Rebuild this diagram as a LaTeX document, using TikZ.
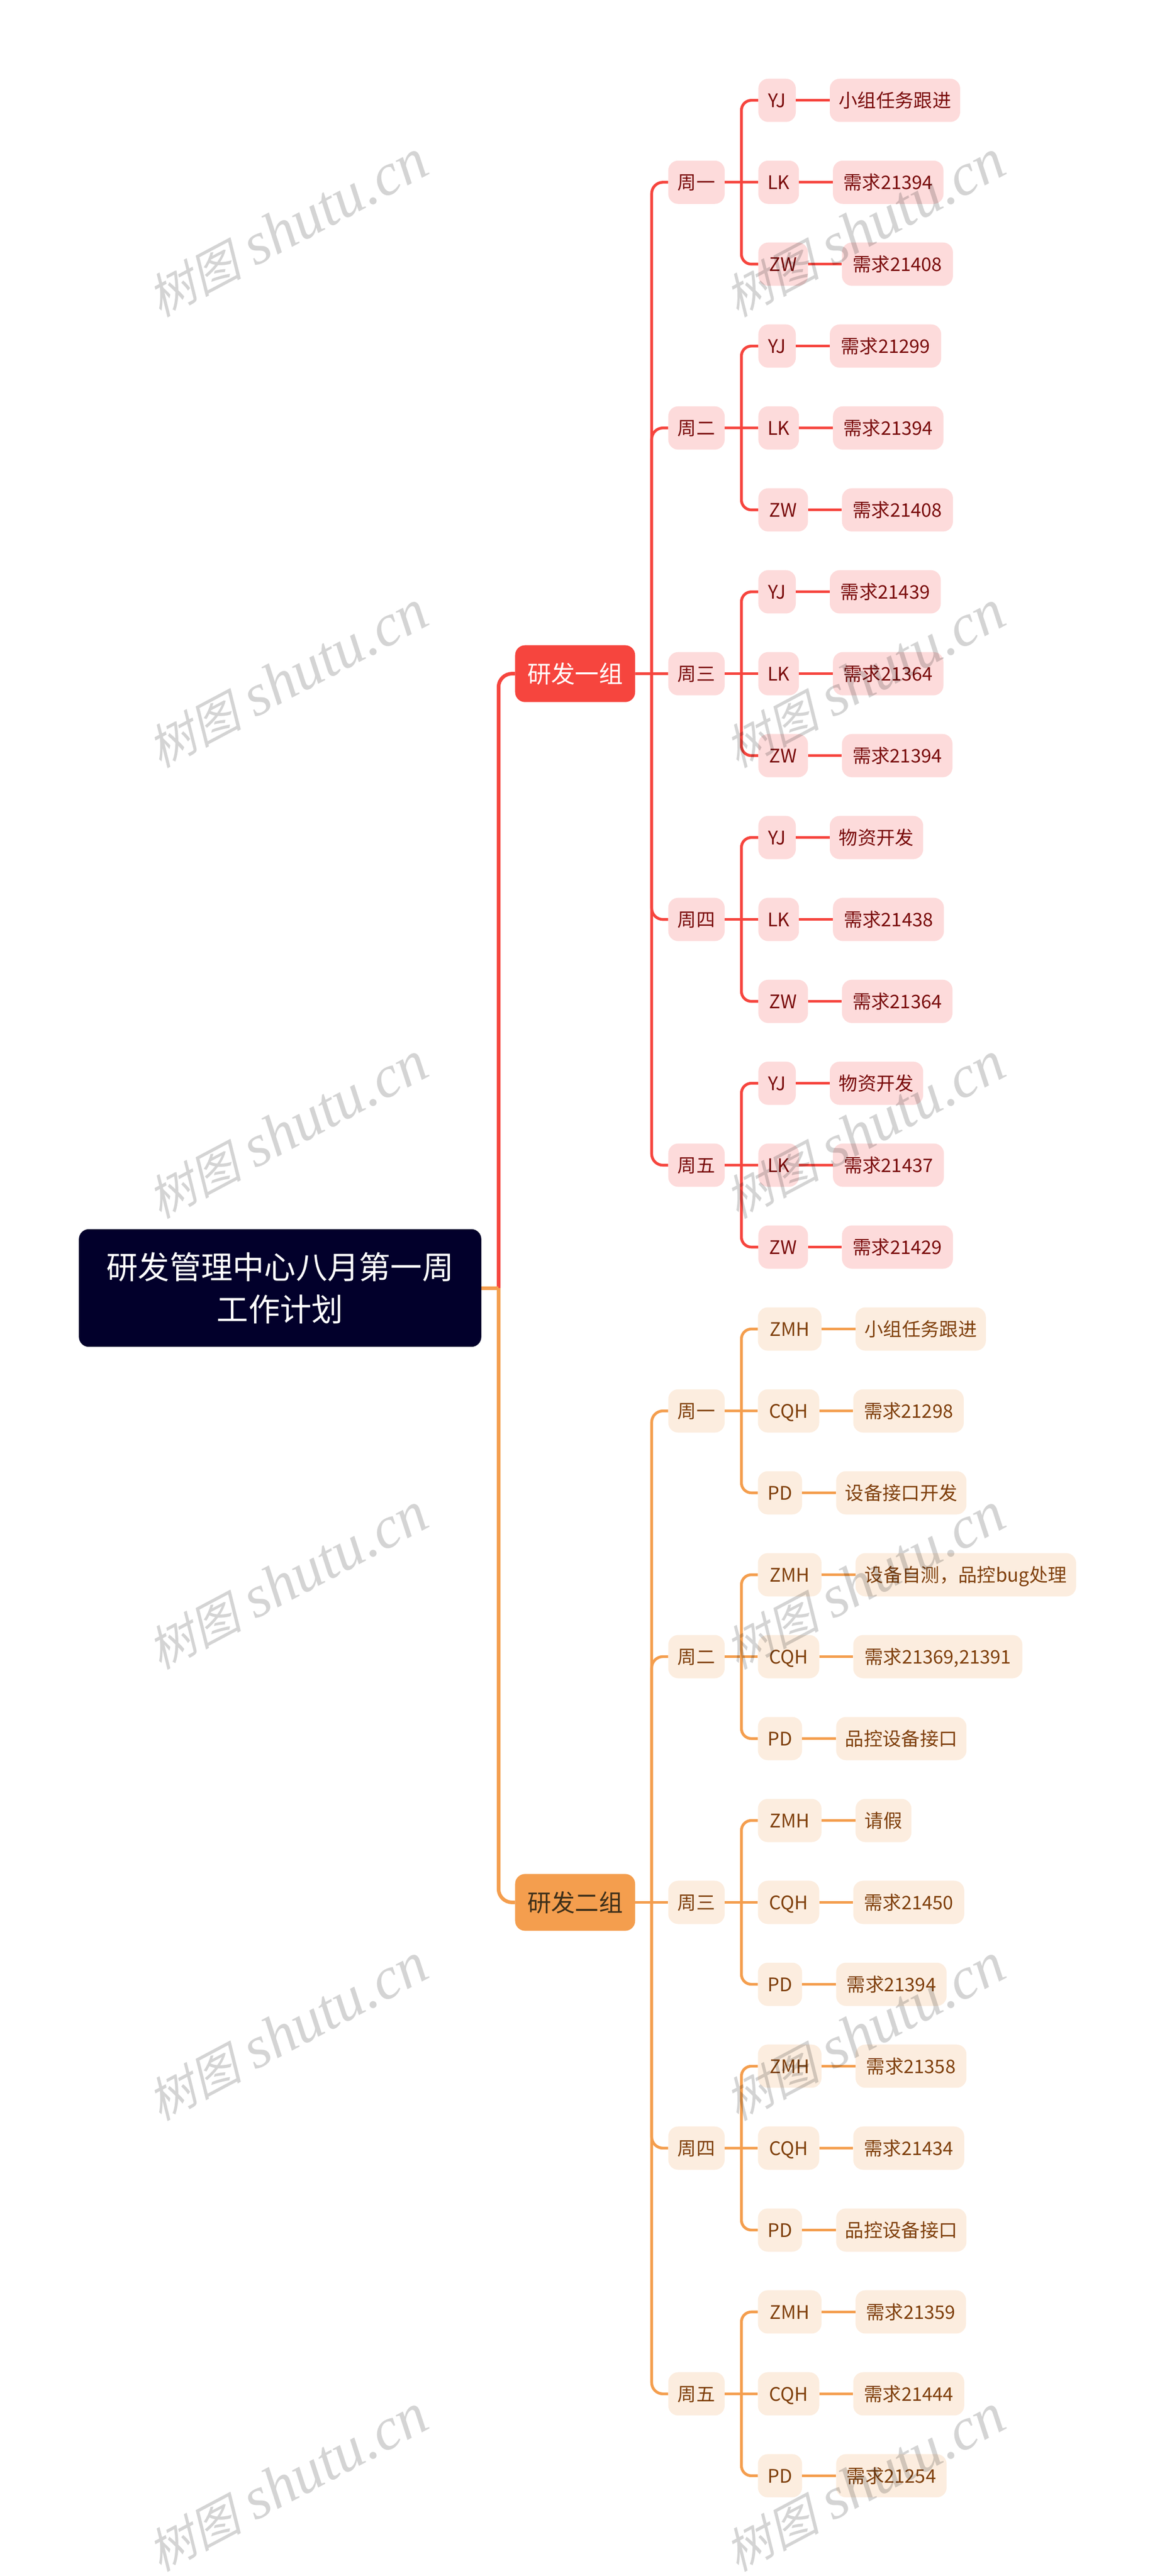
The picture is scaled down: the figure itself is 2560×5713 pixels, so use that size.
\documentclass[tikz,border=0pt]{standalone}
\usepackage{fontspec}
\setmainfont{Noto Sans CJK SC}
\newfontfamily\markcjk[FakeSlant=0.25]{Noto Sans CJK SC}
\newfontfamily\marklatin{Liberation Serif}
\usetikzlibrary{positioning}
\definecolor{rootblue}{HTML}{02002B}
\definecolor{mainred}{HTML}{F6453E}
\definecolor{mainorange}{HTML}{F49E4E}
\definecolor{softred}{HTML}{FDDBDB}
\definecolor{softorange}{HTML}{FCEDDF}
\definecolor{inkred}{HTML}{7A0C0C}
\definecolor{inkorange}{HTML}{7F3F0B}
\definecolor{inkgroup}{HTML}{3D2F1A}
\tikzset{
  softbox/.style={font=\fontsize{41.5}{50}\selectfont,rounded corners=22pt,minimum height=96pt,inner sep=0pt,text height=36.5pt,text depth=5pt},
  redbox/.style={softbox,fill=softred,text=inkred},
  orangebox/.style={softbox,fill=softorange,text=inkorange},
  daywidth/.style={minimum width=125pt},
  yjbox/.style={redbox,anchor=west,minimum width=83pt},
  lkbox/.style={redbox,anchor=west,minimum width=90pt},
  zwbox/.style={redbox,anchor=west,minimum width=110pt},
  zmhbox/.style={orangebox,anchor=west,minimum width=141pt},
  cqhbox/.style={orangebox,anchor=west,minimum width=136pt},
  pdbox/.style={orangebox,anchor=west,minimum width=98pt},
  groupbox/.style={font=\fontsize{53}{60}\selectfont,rounded corners=22pt,minimum width=266pt,minimum height=126pt,inner sep=0pt},
  redline/.style={draw=mainred,line width=6.2pt},
  orangeline/.style={draw=mainorange,line width=6.2pt},
  shutumark/.style={text=black,text opacity=.17,rotate=28,font=\fontsize{132}{140}\selectfont}
}
\newcommand{\marktext}{{\fontsize{105}{140}\selectfont\markcjk 树图} {\marklatin\itshape shutu.cn}}
\begin{document}
\begin{tikzpicture}[x=1pt,y=-1pt]
  \useasboundingbox (0,0) rectangle (2560,5713);
  \node[rounded corners=22pt,fill=rootblue,text=white,minimum width=892pt,minimum height=261pt,inner sep=0pt,align=center,font=\fontsize{70}{94}\selectfont] at (621,2856.5) (root) {研发管理中心八月第一周\\工作计划};
  \node[groupbox,fill=mainred,text=white] at (1275,1494) (g1) {研发一组};
  \node[groupbox,fill=mainorange,text=inkgroup] at (1275,4219) (g2) {研发二组};
  % first group
  \node[redbox,daywidth] at (1544,404.2) (d1) {周一};
  \node[redbox,daywidth] at (1544,949.1) (d2) {周二};
  \node[redbox,daywidth] at (1544,1494.1) (d3) {周三};
  \node[redbox,daywidth] at (1544,2039.1) (d4) {周四};
  \node[redbox,daywidth] at (1544,2584.1) (d5) {周五};
  \node[yjbox] at (1681,222.5) (p0) {YJ};
  \node[lkbox] at (1681,404.2) (p1) {LK};
  \node[zwbox] at (1681,585.8) (p2) {ZW};
  \node[yjbox] at (1681,767.5) (p3) {YJ};
  \node[lkbox] at (1681,949.1) (p4) {LK};
  \node[zwbox] at (1681,1130.8) (p5) {ZW};
  \node[yjbox] at (1681,1312.5) (p6) {YJ};
  \node[lkbox] at (1681,1494.1) (p7) {LK};
  \node[zwbox] at (1681,1675.8) (p8) {ZW};
  \node[yjbox] at (1681,1857.4) (p9) {YJ};
  \node[lkbox] at (1681,2039.1) (p10) {LK};
  \node[zwbox] at (1681,2220.8) (p11) {ZW};
  \node[yjbox] at (1681,2402.4) (p12) {YJ};
  \node[lkbox] at (1681,2584.1) (p13) {LK};
  \node[zwbox] at (1681,2765.7) (p14) {ZW};
  \node[redbox,minimum width=289pt,right=75pt of p0] (l0) {小组任务跟进};
  \node[redbox,minimum width=245pt,right=75pt of p1] (l1) {需求21394};
  \node[redbox,minimum width=246pt,right=75pt of p2] (l2) {需求21408};
  \node[redbox,minimum width=247pt,right=75pt of p3] (l3) {需求21299};
  \node[redbox,minimum width=245pt,right=75pt of p4] (l4) {需求21394};
  \node[redbox,minimum width=246pt,right=75pt of p5] (l5) {需求21408};
  \node[redbox,minimum width=246pt,right=75pt of p6] (l6) {需求21439};
  \node[redbox,minimum width=245pt,right=75pt of p7] (l7) {需求21364};
  \node[redbox,minimum width=245pt,right=75pt of p8] (l8) {需求21394};
  \node[redbox,minimum width=207pt,right=75pt of p9] (l9) {物资开发};
  \node[redbox,minimum width=246pt,right=75pt of p10] (l10) {需求21438};
  \node[redbox,minimum width=245pt,right=75pt of p11] (l11) {需求21364};
  \node[redbox,minimum width=207pt,right=75pt of p12] (l12) {物资开发};
  \node[redbox,minimum width=246pt,right=75pt of p13] (l13) {需求21437};
  \node[redbox,minimum width=246pt,right=75pt of p14] (l14) {需求21429};
  % second group
  \node[orangebox,daywidth] at (1544,3129.1) (d6) {周一};
  \node[orangebox,daywidth] at (1544,3674) (d7) {周二};
  \node[orangebox,daywidth] at (1544,4219) (d8) {周三};
  \node[orangebox,daywidth] at (1544,4764) (d9) {周四};
  \node[orangebox,daywidth] at (1544,5309) (d10) {周五};
  \node[zmhbox] at (1680,2947.4) (p15) {ZMH};
  \node[cqhbox] at (1680,3129.1) (p16) {CQH};
  \node[pdbox] at (1680,3310.7) (p17) {PD};
  \node[zmhbox] at (1680,3492.4) (p18) {ZMH};
  \node[cqhbox] at (1680,3674) (p19) {CQH};
  \node[pdbox] at (1680,3855.7) (p20) {PD};
  \node[zmhbox] at (1680,4037.4) (p21) {ZMH};
  \node[cqhbox] at (1680,4219) (p22) {CQH};
  \node[pdbox] at (1680,4400.7) (p23) {PD};
  \node[zmhbox] at (1680,4582.3) (p24) {ZMH};
  \node[cqhbox] at (1680,4764) (p25) {CQH};
  \node[pdbox] at (1680,4945.7) (p26) {PD};
  \node[zmhbox] at (1680,5127.3) (p27) {ZMH};
  \node[cqhbox] at (1680,5309) (p28) {CQH};
  \node[pdbox] at (1680,5490.6) (p29) {PD};
  \node[orangebox,minimum width=289pt,right=75pt of p15] (l15) {小组任务跟进};
  \node[orangebox,minimum width=245pt,right=75pt of p16] (l16) {需求21298};
  \node[orangebox,minimum width=289pt,right=75pt of p17] (l17) {设备接口开发};
  \node[orangebox,minimum width=489pt,right=75pt of p18] (l18) {设备自测，品控bug处理};
  \node[orangebox,minimum width=375pt,right=75pt of p19] (l19) {需求21369,21391};
  \node[orangebox,minimum width=289pt,right=75pt of p20] (l20) {品控设备接口};
  \node[orangebox,minimum width=124pt,right=75pt of p21] (l21) {请假};
  \node[orangebox,minimum width=246pt,right=75pt of p22] (l22) {需求21450};
  \node[orangebox,minimum width=245pt,right=75pt of p23] (l23) {需求21394};
  \node[orangebox,minimum width=246pt,right=75pt of p24] (l24) {需求21358};
  \node[orangebox,minimum width=246pt,right=75pt of p25] (l25) {需求21434};
  \node[orangebox,minimum width=289pt,right=75pt of p26] (l26) {品控设备接口};
  \node[orangebox,minimum width=245pt,right=75pt of p27] (l27) {需求21359};
  \node[orangebox,minimum width=246pt,right=75pt of p28] (l28) {需求21444};
  \node[orangebox,minimum width=245pt,right=75pt of p29] (l29) {需求21254};
  % connectors
  \draw[draw=mainred,line width=8pt,rounded corners=30pt] (root.east) ++(38pt,0) |- (g1.west);
  \draw[draw=mainorange,line width=8pt,rounded corners=30pt] (root.east) ++(38pt,0) |- (g2.west);
  \draw[draw=mainorange,line width=8pt] (root.east) -- ++(38pt,0);
  \draw[redline,rounded corners=25pt] (g1.east) ++(36.5pt,0) |- (d1.west);
  \draw[redline,rounded corners=25pt] (g1.east) ++(36.5pt,0) |- (d2.west);
  \draw[redline] (g1) -- (d3);
  \draw[redline,rounded corners=25pt] (g1.east) ++(36.5pt,0) |- (d4.west);
  \draw[redline,rounded corners=25pt] (g1.east) ++(36.5pt,0) |- (d5.west);
  \draw[orangeline,rounded corners=25pt] (g2.east) ++(36.5pt,0) |- (d6.west);
  \draw[orangeline,rounded corners=25pt] (g2.east) ++(36.5pt,0) |- (d7.west);
  \draw[orangeline] (g2) -- (d8);
  \draw[orangeline,rounded corners=25pt] (g2.east) ++(36.5pt,0) |- (d9.west);
  \draw[orangeline,rounded corners=25pt] (g2.east) ++(36.5pt,0) |- (d10.west);
  \draw[redline,rounded corners=22pt] (d1.east) ++(37pt,0) |- (p0.west);
  \draw[redline] (d1) -- (p1);
  \draw[redline,rounded corners=22pt] (d1.east) ++(37pt,0) |- (p2.west);
  \draw[redline,rounded corners=22pt] (d2.east) ++(37pt,0) |- (p3.west);
  \draw[redline] (d2) -- (p4);
  \draw[redline,rounded corners=22pt] (d2.east) ++(37pt,0) |- (p5.west);
  \draw[redline,rounded corners=22pt] (d3.east) ++(37pt,0) |- (p6.west);
  \draw[redline] (d3) -- (p7);
  \draw[redline,rounded corners=22pt] (d3.east) ++(37pt,0) |- (p8.west);
  \draw[redline,rounded corners=22pt] (d4.east) ++(37pt,0) |- (p9.west);
  \draw[redline] (d4) -- (p10);
  \draw[redline,rounded corners=22pt] (d4.east) ++(37pt,0) |- (p11.west);
  \draw[redline,rounded corners=22pt] (d5.east) ++(37pt,0) |- (p12.west);
  \draw[redline] (d5) -- (p13);
  \draw[redline,rounded corners=22pt] (d5.east) ++(37pt,0) |- (p14.west);
  \draw[orangeline,rounded corners=22pt] (d6.east) ++(37pt,0) |- (p15.west);
  \draw[orangeline] (d6) -- (p16);
  \draw[orangeline,rounded corners=22pt] (d6.east) ++(37pt,0) |- (p17.west);
  \draw[orangeline,rounded corners=22pt] (d7.east) ++(37pt,0) |- (p18.west);
  \draw[orangeline] (d7) -- (p19);
  \draw[orangeline,rounded corners=22pt] (d7.east) ++(37pt,0) |- (p20.west);
  \draw[orangeline,rounded corners=22pt] (d8.east) ++(37pt,0) |- (p21.west);
  \draw[orangeline] (d8) -- (p22);
  \draw[orangeline,rounded corners=22pt] (d8.east) ++(37pt,0) |- (p23.west);
  \draw[orangeline,rounded corners=22pt] (d9.east) ++(37pt,0) |- (p24.west);
  \draw[orangeline] (d9) -- (p25);
  \draw[orangeline,rounded corners=22pt] (d9.east) ++(37pt,0) |- (p26.west);
  \draw[orangeline,rounded corners=22pt] (d10.east) ++(37pt,0) |- (p27.west);
  \draw[orangeline] (d10) -- (p28);
  \draw[orangeline,rounded corners=22pt] (d10.east) ++(37pt,0) |- (p29.west);
  \draw[redline] (p0) -- (l0);
  \draw[redline] (p1) -- (l1);
  \draw[redline] (p2) -- (l2);
  \draw[redline] (p3) -- (l3);
  \draw[redline] (p4) -- (l4);
  \draw[redline] (p5) -- (l5);
  \draw[redline] (p6) -- (l6);
  \draw[redline] (p7) -- (l7);
  \draw[redline] (p8) -- (l8);
  \draw[redline] (p9) -- (l9);
  \draw[redline] (p10) -- (l10);
  \draw[redline] (p11) -- (l11);
  \draw[redline] (p12) -- (l12);
  \draw[redline] (p13) -- (l13);
  \draw[redline] (p14) -- (l14);
  \draw[orangeline] (p15) -- (l15);
  \draw[orangeline] (p16) -- (l16);
  \draw[orangeline] (p17) -- (l17);
  \draw[orangeline] (p18) -- (l18);
  \draw[orangeline] (p19) -- (l19);
  \draw[orangeline] (p20) -- (l20);
  \draw[orangeline] (p21) -- (l21);
  \draw[orangeline] (p22) -- (l22);
  \draw[orangeline] (p23) -- (l23);
  \draw[orangeline] (p24) -- (l24);
  \draw[orangeline] (p25) -- (l25);
  \draw[orangeline] (p26) -- (l26);
  \draw[orangeline] (p27) -- (l27);
  \draw[orangeline] (p28) -- (l28);
  \draw[orangeline] (p29) -- (l29);
  % watermark
  \node[shutumark] at (637,507) (m1) {\marktext};
  \node[shutumark] at (1917,507) (m2) {\marktext};
  \node[shutumark] at (637,1507) (m3) {\marktext};
  \node[shutumark] at (1917,1507) (m4) {\marktext};
  \node[shutumark] at (637,2507) (m5) {\marktext};
  \node[shutumark] at (1917,2507) (m6) {\marktext};
  \node[shutumark] at (637,3507) (m7) {\marktext};
  \node[shutumark] at (1917,3507) (m8) {\marktext};
  \node[shutumark] at (637,4507) (m9) {\marktext};
  \node[shutumark] at (1917,4507) (m10) {\marktext};
  \node[shutumark] at (637,5507) (m11) {\marktext};
  \node[shutumark] at (1917,5507) (m12) {\marktext};
\end{tikzpicture}
\end{document}
